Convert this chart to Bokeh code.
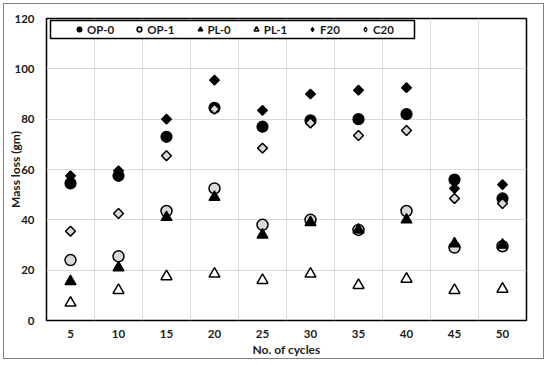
import math
from bokeh.plotting import figure
from bokeh.models import (FixedTicker, Legend, LegendItem, BoxAnnotation,
                          Range1d)
from bokeh.embed import file_html
from bokeh.resources import INLINE

cycles = [5, 10, 15, 20, 25, 30, 35, 40, 45, 50]
op0 = [54.5, 57.5, 73.0, 84.5, 77.0, 79.5, 80.0, 82.0, 56.0, 48.5]
op1 = [24.0, 25.5, 43.5, 52.5, 38.0, 40.0, 36.0, 43.5, 29.0, 29.5]
pl0 = [15.5, 21.0, 41.0, 49.0, 34.0, 39.0, 36.0, 40.0, 30.5, 30.0]
pl1 = [7.0, 12.0, 17.5, 18.5, 16.0, 18.5, 14.0, 16.5, 12.0, 12.5]
f20 = [57.5, 59.5, 80.0, 95.5, 83.5, 90.0, 91.5, 92.5, 52.5, 54.0]
c20 = [35.5, 42.5, 65.5, 84.0, 68.5, 78.5, 73.5, 75.5, 48.5, 46.5]
y_ticks = [0, 20, 40, 60, 80, 100, 120]

FONT = "Lato"
TXT = "#1a1a1a"

step = cycles[1] - cycles[0]
p = figure(width=541, height=356, output_backend="svg", toolbar_location=None,
           x_range=Range1d(cycles[0] - step / 2, cycles[-1] + step / 2),
           y_range=Range1d(0, 120),
           min_border_left=42, min_border_right=19, min_border_top=14,
           min_border_bottom=40)
p.styles = {"margin": "3px", "border": "1px solid #808080"}
p.outline_line_color = "black"
p.outline_line_width = 1.5
p.background_fill_color = "white"
p.border_fill_color = "white"

# axes
p.xaxis.ticker = FixedTicker(ticks=cycles)
p.yaxis.ticker = FixedTicker(ticks=y_ticks)
for ax in (p.xaxis[0], p.yaxis[0]):
    ax.axis_line_color = None
    ax.major_tick_line_color = None
    ax.minor_tick_line_color = None
    ax.major_tick_out = 0
    ax.major_tick_in = 0
    ax.major_label_text_font = FONT
    ax.major_label_text_font_style = "bold"
    ax.major_label_text_font_size = "11.5px"
    ax.major_label_text_color = TXT
    ax.axis_label_text_font = FONT
    ax.axis_label_text_font_style = "bold"
    ax.axis_label_text_font_size = "12px"
    ax.axis_label_text_color = TXT
p.xaxis.major_label_standoff = 9
p.yaxis.major_label_standoff = 12
p.xaxis.axis_label = "No. of cycles"
p.xaxis.axis_label_standoff = 1
p.yaxis.axis_label = "Mass loss (gm)"
p.yaxis.axis_label_standoff = -12

# grids
p.xgrid.ticker = FixedTicker(ticks=[(a + b) / 2 for a, b in zip(cycles, cycles[1:])])
p.ygrid.ticker = FixedTicker(ticks=y_ticks)
p.xgrid.grid_line_color = "#d9d9d9"
p.ygrid.grid_line_color = "#d9d9d9"
p.xgrid.grid_line_width = 1
p.ygrid.grid_line_width = 1

# series
r_op0 = p.scatter(cycles, op0, marker="circle", size=11, fill_color="black",
                  line_color="black", line_width=1.2)
r_op1 = p.scatter(cycles, op1, marker="circle", size=11, fill_color="#d9d9d9",
                  line_color="black", line_width=1.5)
r_pl0 = p.scatter(cycles, pl0, marker="triangle", size=11, fill_color="black",
                  line_color="black", line_width=1.2)
r_pl1 = p.scatter(cycles, pl1, marker="triangle", size=11, fill_color="white",
                  line_color="black", line_width=1.5)
r_f20 = p.scatter(cycles, f20, marker="square", angle=math.pi / 4, size=7,
                  fill_color="black", line_color="black", line_width=1.2)
r_c20 = p.scatter(cycles, c20, marker="square", angle=math.pi / 4, size=7,
                  fill_color="#d9d9d9", line_color="black", line_width=1.5)

# legend-only proxies for the diamond shapes (no visible point)
nan = float("nan")
lg_f20 = p.scatter([cycles[0]], [nan], marker="diamond", size=8,
                   fill_color="black", line_color="black", line_width=1.0)
lg_c20 = p.scatter([cycles[0]], [nan], marker="diamond", size=8,
                   fill_color="white", line_color="black", line_width=1.2)

# legend box
box = BoxAnnotation(left=4, right=368, top=300, bottom=282,
                    left_units="screen", right_units="screen",
                    top_units="screen", bottom_units="screen",
                    fill_color="white", fill_alpha=1.0,
                    line_color="black", line_width=1.5, line_alpha=1.0)
p.add_layout(box)

legend = Legend(items=[
    LegendItem(label="OP-0", renderers=[r_op0]),
    LegendItem(label="OP-1", renderers=[r_op1]),
    LegendItem(label="PL-0", renderers=[r_pl0]),
    LegendItem(label="PL-1", renderers=[r_pl1]),
    LegendItem(label="F20", renderers=[lg_f20]),
    LegendItem(label="C20", renderers=[lg_c20]),
], orientation="horizontal", location=(27, 284), padding=0, margin=0,
    spacing=19, glyph_width=12, glyph_height=14, label_height=14,
    label_standoff=2, label_width=0,
    border_line_color=None, background_fill_alpha=0,
    label_text_font=FONT, label_text_font_style="bold",
    label_text_font_size="11.5px", label_text_color=TXT)
p.add_layout(legend, "center")

open("out.html", "w").write(file_html(p, INLINE))
